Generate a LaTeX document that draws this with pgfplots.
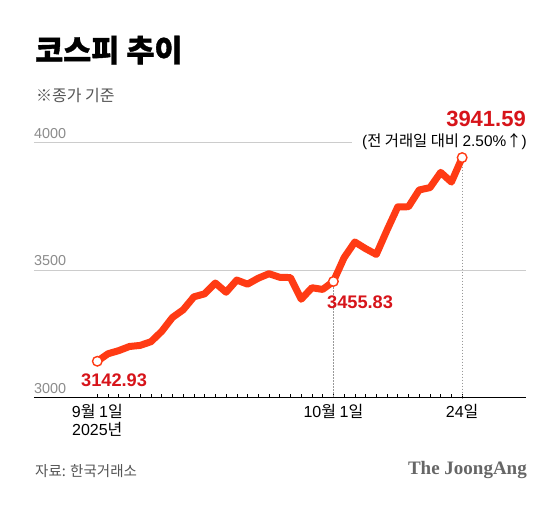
\documentclass[border=0pt]{standalone}
\usepackage{pgfplots}
\pgfplotsset{compat=1.18}
\usepackage{fontspec}
\setmainfont{Noto Sans CJK KR}
\newfontfamily\lat{Liberation Sans}
\newfontfamily\logofont{Liberation Serif}
\newfontfamily\titlefont{Noto Sans CJK KR}[BoldFeatures={FakeBold=1.2}]
\definecolor{linered}{HTML}{FF3B14}
\definecolor{labelred}{HTML}{D7141A}
\definecolor{gridgray}{HTML}{CCCCCC}
\definecolor{ticklabgray}{HTML}{8C8C8C}
\definecolor{subgray}{HTML}{555555}
\definecolor{dotgray}{HTML}{999999}
\pgfplotstableread{
i v
0 3142.93
1 3172.35
2 3184.60
3 3200.83
4 3205.12
5 3219.59
6 3260.05
7 3314.53
8 3344.70
9 3395.54
10 3407.31
11 3449.62
12 3413.63
13 3461.30
14 3445.24
15 3468.65
16 3486.19
17 3472.14
18 3471.11
19 3386.05
20 3431.21
21 3424.60
22 3455.83
23 3549.21
24 3610.60
25 3584.55
26 3561.81
27 3657.28
28 3748.37
29 3748.89
30 3814.69
31 3823.84
32 3883.68
33 3845.56
34 3941.59
}\kospi
\begin{document}
\begin{tikzpicture}[x=1pt,y=1pt]
\useasboundingbox (0,0) rectangle (560,506);
\fill[white] (0,0) rectangle (560,506);
% title and subtitle
\node[anchor=base west, inner sep=0] at (35,444.5) {\titlefont\fontsize{30.5}{33}\selectfont\bfseries 코스피 추이};
\node[anchor=base west, inner sep=0, text=subgray] at (36,404) {\fontsize{16}{18}\selectfont ※종가 기준};
% source and logo
\node[anchor=base west, inner sep=0, text=subgray] at (35,29) {\fontsize{14.5}{16}\selectfont 자료: 한국거래소};
\node[anchor=base east, inner sep=0, text=black!60] at (527,31) {\logofont\bfseries\fontsize{19}{21}\selectfont The JoongAng};
\begin{axis}[
  at={(34pt,108.3pt)}, anchor=south west,
  scale only axis, width=492pt, height=306pt,
  xmin=-5.9, xmax=39.95, ymin=3000, ymax=4200,
  axis x line*=bottom, axis y line=none,
  ytick=\empty,
  xtick={0,22,34},
  xticklabels={{{\lat 9}월 {\lat 1}일\\{\lat 2025}년},{{\lat 10}월 {\lat 1}일},{{\lat 24}일}},
  minor xtick={0,...,34},
  xtick align=inside,
  major tick length=4pt, minor tick length=4pt,
  tick style={black, line width=0.6pt},
  x axis line style={black, line width=1pt},
  xticklabel style={align=center, font=\fontsize{16}{18.5}\selectfont, inner sep=0pt, yshift=-6pt},
  clip=false,
]
\draw[gridgray, line width=1pt] (axis cs:-5.9,3500) -- (axis cs:39.95,3500);
\draw[gridgray, line width=1pt] (axis cs:-5.9,4000) -- (axis cs:23.77,4000);
\node[anchor=base west, inner sep=0, text=ticklabgray, yshift=4.5pt] at (axis cs:-5.9,4000) {\lat\fontsize{14.4}{16}\selectfont 4000};
\node[anchor=base west, inner sep=0, text=ticklabgray, yshift=4.5pt] at (axis cs:-5.9,3500) {\lat\fontsize{14.4}{16}\selectfont 3500};
\node[anchor=base west, inner sep=0, text=ticklabgray, yshift=4.5pt] at (axis cs:-5.9,3000) {\lat\fontsize{14.4}{16}\selectfont 3000};
\draw[dotgray, line width=0.8pt, dash pattern=on 1.5pt off 1.5pt] (axis cs:22,3455.83) -- (axis cs:22,3000);
\draw[dotgray, line width=0.8pt, dash pattern=on 1.5pt off 1.5pt] (axis cs:34,3941.59) -- (axis cs:34,3000);
\addplot[linered, line width=7pt, line join=round, line cap=round] table[x=i, y=v] {\kospi};
\addplot[only marks, mark=*, mark size=4.8pt, mark options={fill=white, draw=linered, line width=1.4pt}] coordinates {(0,3142.93) (22,3455.83) (34,3941.59)};
\end{axis}
% value labels
\node[anchor=base west, inner sep=0, text=labelred] at (81,119.3) {\lat\fontsize{18.2}{20}\selectfont\bfseries 3142.93};
\node[anchor=base west, inner sep=0, text=labelred] at (327,197.5) {\lat\fontsize{18.2}{20}\selectfont\bfseries 3455.83};
\node[anchor=base east, inner sep=0, text=labelred] at (526,379) {\lat\fontsize{22}{24}\selectfont\bfseries 3941.59};
\node[anchor=base east, inner sep=0] at (527,359.5) {\fontsize{15.4}{17}\selectfont {\lat (}전 거래일 대비 {\lat 2.50\%}↑{\lat )}};
\end{tikzpicture}
\end{document}
